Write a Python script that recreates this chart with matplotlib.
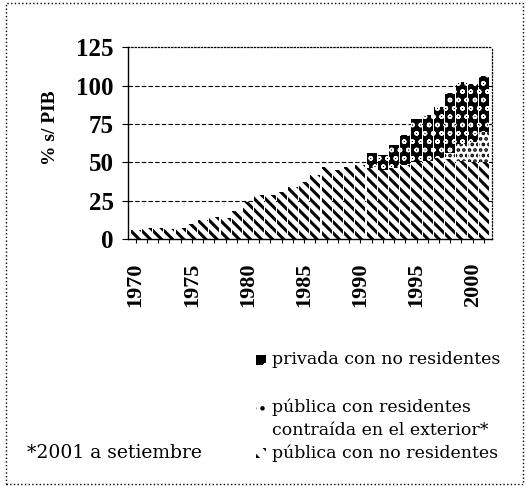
import matplotlib
matplotlib.use("Agg")
import matplotlib.pyplot as plt
import matplotlib.patches as mpatches
import numpy as np

years = list(range(1970, 2002))
publica_no_residentes = [6, 7, 7, 6.5, 7.5, 10, 12.5, 14.5, 14, 18, 24, 29, 29, 31, 34, 37,
                         42, 47, 45, 47, 48, 46, 45, 46, 48, 50, 51, 53, 52, 51, 50, 50]
publica_residentes_ext = [0]*28 + [4, 11, 13, 20]
privada_no_residentes = [0]*21 + [10, 10, 15, 20, 28, 30, 33, 39, 40, 38, 36]
yticks = [0, 25, 50, 75, 100, 125]
xlabels = [1970, 1975, 1980, 1985, 1990, 1995, 2000]

plt.rcParams['font.family'] = ['Liberation Serif', 'DejaVu Serif']

fig = plt.figure(figsize=(5.26, 4.86), dpi=100)
ax = fig.add_axes([0.243, 0.508, 0.692, 0.395])

x = np.array(years)
p1 = np.array(publica_no_residentes, dtype=float)
p2 = np.array(publica_residentes_ext, dtype=float)
p3 = np.array(privada_no_residentes, dtype=float)

w = 0.9
with plt.rc_context({'hatch.linewidth': 2.2}):
    ax.bar(x, p1, width=w, color='white', edgecolor='black', hatch='\\\\\\', linewidth=0, zorder=2)
with plt.rc_context({'hatch.linewidth': 1.8}):
    ax.bar(x, p2, bottom=p1, width=w, color='white', edgecolor='black', hatch='...', linewidth=0, zorder=2)
with plt.rc_context({'hatch.linewidth': 1.0}):
    ax.bar(x, p3, bottom=p1 + p2, width=w, color='black', edgecolor='white', hatch='oo', linewidth=0, zorder=2)

ax.set_ylim(0, 125)
ax.set_xlim(1969.3, 2001.7)
ax.set_yticks(yticks)
ax.set_yticklabels([str(v) for v in yticks], fontsize=18, fontweight='bold')
ax.set_xticks(xlabels)
ax.set_xticklabels([str(v) for v in xlabels], rotation=90, fontsize=16, fontweight='bold')
ax.set_xticks(years, minor=True)
ax.tick_params(axis='x', which='both', direction='out', length=3, width=0.8, pad=14)
ax.tick_params(axis='y', direction='out', length=4, width=0.8, pad=6)

for yv in [25, 50, 75, 100]:
    ax.axhline(yv, color='black', linestyle=(0, (4, 2)), linewidth=0.8, zorder=1)

ax.set_ylabel('% s/ PIB', fontsize=14, fontweight='bold')
ax.yaxis.set_label_coords(-0.19, 0.578)

for s in ['top', 'right']:
    ax.spines[s].set_linestyle(':')
    ax.spines[s].set_linewidth(0.9)
for s in ['left', 'bottom']:
    ax.spines[s].set_linewidth(1.0)

# Legend (custom)
fs = 12.5
lfam = ['DejaVu Serif']
def legend_patch(xpix, ypix, **kw):
    r = mpatches.Rectangle((xpix / 526, 1 - (ypix + 5) / 486), 10 / 526, 10 / 486,
                           transform=fig.transFigure, linewidth=0, **kw)
    fig.patches.append(r)

with plt.rc_context({'hatch.linewidth': 1.0}):
    legend_patch(256, 360, facecolor='black', edgecolor='white', hatch='o')
fig.text(272 / 526, 1 - 360 / 486, 'privada con no residentes', fontsize=fs, va='center', ha='left', family=lfam)

with plt.rc_context({'hatch.linewidth': 2.0}):
    legend_patch(256, 407, facecolor='white', edgecolor='black', hatch='..')
fig.text(272 / 526, 1 - 407 / 486, 'pública con residentes', fontsize=fs, va='center', ha='left', family=lfam)
fig.text(272 / 526, 1 - 430 / 486, 'contraída en el exterior*', fontsize=fs, va='center', ha='left', family=lfam)

with plt.rc_context({'hatch.linewidth': 2.2}):
    legend_patch(256, 453, facecolor='white', edgecolor='black', hatch='\\\\')
fig.text(272 / 526, 1 - 453 / 486, 'pública con no residentes', fontsize=fs, va='center', ha='left', family=lfam)

fig.text(27 / 526, 1 - 453 / 486, '*2001 a setiembre', fontsize=13.5, va='center', ha='left', family=lfam)

# outer dotted frame
frame = mpatches.Rectangle((0.012, 0.004), 0.982, 0.99, transform=fig.transFigure,
                           fill=False, edgecolor='black', linestyle=':', linewidth=1.0)
fig.patches.append(frame)

fig.savefig('out.png', dpi=100)
